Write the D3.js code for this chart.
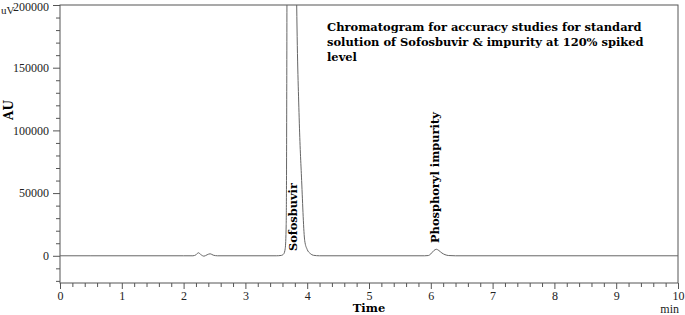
<!DOCTYPE html>
<html><head><meta charset="utf-8">
<script src="https://cdn.jsdelivr.net/npm/d3@7"></script>
<style>body{margin:0;background:#fff}svg{display:block}</style>
</head><body>
<svg id="c" width="685" height="315"></svg>
<script>
// Retention time (min) and detector signal (uV)
const times  = [0, 0.5, 2.0, 2.15, 2.20, 2.24, 2.28, 2.33, 2.38, 2.43, 2.48, 2.55,
                3.50, 3.58, 3.62, 3.645, 3.66, 3.665, 3.67, 3.675, 3.70, 3.75, 3.80, 3.83,
                3.87, 3.91, 3.96, 4.00, 4.05, 4.10, 4.20,
                5.90, 5.96, 6.00, 6.05, 6.09, 6.13, 6.18, 6.23, 6.29, 6.40, 10];
const signal = [0, 0, 0, 0, 800, 2400, 900, -300, 800, 1600, 500, 0,
                0, 300, 1500, 6000, 25000, 60000, 150000, 260000, 420000, 500000, 350000, 200000,
                110000, 60000, 12000, 5000, 1800, 400, 0,
                0, 200, 1500, 4200, 5200, 4200, 2200, 900, 200, 0, 0];
const xMajorTicks = [0,1,2,3,4,5,6,7,8,9,10];
const yMajorTicks = [0, 50000, 100000, 150000, 200000];
const peakNames = ["Sofosbuvir", "Phosphoryl impurity"];
const titleLines = ["Chromatogram for accuracy studies for standard",
                    "solution of Sofosbuvir & impurity at 120% spiked",
                    "level"];

const svg = d3.select("#c");
const L = 60, R = 678, T = 5, B = 283;
const x = d3.scaleLinear().domain([0, 10]).range([L, R]);
const y = d3.scaleLinear().domain([-21700, 200000]).range([B, T]);
const axisColor = "#555";
const serif = '"Liberation Serif", "Times New Roman", serif';
const boldSerif = '"DejaVu Serif", serif';

svg.append("defs").append("clipPath").attr("id","clip")
  .append("rect").attr("x", L).attr("y", T).attr("width", R - L).attr("height", B - T);

// frame
svg.append("rect").attr("x", L).attr("y", T).attr("width", R - L).attr("height", B - T)
  .attr("fill","none").attr("stroke", axisColor).attr("stroke-width", 1);

// Y axis
const yMinor = d3.range(-20000, 200001, 10000).filter(v => !yMajorTicks.includes(v));
const ya = svg.append("g").attr("transform", `translate(${L},0)`);
ya.call(d3.axisLeft(y).tickValues(yMajorTicks).tickSize(7).tickPadding(4).tickFormat(d3.format("d")));
ya.append("g").call(d3.axisLeft(y).tickValues(yMinor).tickSize(4).tickFormat(""));
ya.selectAll("path.domain").remove();
ya.selectAll("line").attr("stroke", axisColor);
ya.selectAll("text").style("font-family", serif).style("font-size", "12px").attr("fill", "#222");
ya.selectAll(".tick").filter(d => d === 200000).select("text").attr("dy", "0.42em");

// X axis
const xMinor = d3.range(0, 10.001, 0.2).filter(v => Math.abs(v - Math.round(v)) > 0.01);
const xa = svg.append("g").attr("transform", `translate(0,${B})`);
xa.call(d3.axisBottom(x).tickValues(xMajorTicks).tickSize(6).tickPadding(2).tickFormat(d3.format("d")));
xa.append("g").call(d3.axisBottom(x).tickValues(xMinor).tickSize(4).tickFormat(""));
xa.selectAll("path.domain").remove();
xa.selectAll("line").attr("stroke", axisColor);
xa.selectAll("text").style("font-family", serif).style("font-size", "12px").attr("fill", "#222");

// trace
const pts = times.map((t, i) => [t, signal[i]]);
svg.append("path").attr("clip-path","url(#clip)")
  .datum(pts)
  .attr("fill","none").attr("stroke","#666").attr("stroke-width", 1)
  .attr("d", d3.line().x(d => x(d[0])).y(d => y(d[1])).curve(d3.curveMonotoneX));

// axis labels
svg.append("text").attr("x", 1).attr("y", 14).text("uV")
  .style("font-family", serif).style("font-size", "11px").attr("fill","#222");
svg.append("text").attr("transform", `translate(13,110) rotate(-90)`).attr("text-anchor","middle")
  .text("AU").style("font-family", boldSerif).style("font-weight","bold").style("font-size", "12px");
svg.append("text").attr("x", 369).attr("y", 312).attr("text-anchor","middle")
  .text("Time").style("font-family", boldSerif).style("font-weight","bold").style("font-size", "11.5px");
svg.append("text").attr("x", 679).attr("y", 313).attr("text-anchor","end")
  .text("min").style("font-family", serif).style("font-size", "12px").attr("fill","#222");

// peak labels (rotated)
const peakLen = [68, 131];
const peakBase = [251, 243];
const peakX = [296.5, 438.5];
peakNames.forEach((n, i) => {
  const t = svg.append("text")
    .attr("transform", `translate(${peakX[i]},${peakBase[i]}) rotate(-90)`)
    .style("font-family", boldSerif).style("font-weight","bold").style("font-size", "11px")
    .text(n);
  const w = t.node().getComputedTextLength();
  t.style("font-size", (11 * peakLen[i] / w) + "px");
});

// title
const titleW = 315;
const tl = titleLines.map((s, i) => svg.append("text").attr("x", 327).attr("y", 31 + i * 15)
    .style("font-family", boldSerif).style("font-weight","bold").style("font-size", "12px")
    .text(s));
const fw = tl[0].node().getComputedTextLength();
tl.forEach(t => t.style("font-size", (12 * titleW / fw) + "px"));
</script>
</body></html>
